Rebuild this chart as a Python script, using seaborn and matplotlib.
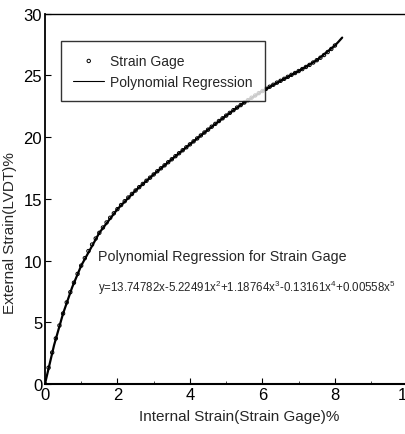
import numpy as np
import pandas as pd
import matplotlib
matplotlib.use("Agg")
import matplotlib.pyplot as plt
import seaborn as sns

# strain gage readings
gage_x = [0.0, 0.1, 0.2, 0.3, 0.4, 0.5, 0.6, 0.7, 0.8, 0.9,
          1.0, 1.1, 1.2, 1.3, 1.4, 1.5, 1.6, 1.7, 1.8, 1.9,
          2.0, 2.1, 2.2, 2.3, 2.4, 2.5, 2.6, 2.7, 2.8, 2.9,
          3.0, 3.1, 3.2, 3.3, 3.4, 3.5, 3.6, 3.7, 3.8, 3.9,
          4.0, 4.1, 4.2, 4.3, 4.4, 4.5, 4.6, 4.7, 4.8, 4.9,
          5.0, 5.1, 5.2, 5.3, 5.4, 5.5, 5.6, 5.7, 5.8, 5.9,
          6.0, 6.1, 6.2, 6.3, 6.4, 6.5, 6.6, 6.7, 6.8, 6.9,
          7.0, 7.1, 7.2, 7.3, 7.4, 7.5, 7.6, 7.7, 7.8, 7.9, 8.0]
gage_y = [0.00, 1.32, 2.55, 3.69, 4.74, 5.71, 6.61, 7.44, 8.21, 8.92,
          9.59, 10.20, 10.77, 11.30, 11.79, 12.25, 12.68, 13.09, 13.47, 13.83,
          14.17, 14.50, 14.81, 15.11, 15.40, 15.68, 15.95, 16.21, 16.47, 16.72,
          16.98, 17.24, 17.48, 17.72, 17.97, 18.21, 18.46, 18.70, 18.94, 19.18,
          19.42, 19.66, 19.90, 20.14, 20.38, 20.61, 20.85, 21.08, 21.31, 21.53,
          21.75, 21.97, 22.19, 22.40, 22.60, 22.81, 23.00, 23.20, 23.38, 23.57,
          23.74, 23.92, 24.09, 24.25, 24.42, 24.57, 24.73, 24.89, 25.05, 25.20,
          25.36, 25.52, 25.69, 25.86, 26.05, 26.24, 26.44, 26.66, 26.90, 27.15, 27.43]

# regression curve
fit_x = [0.0, 0.25, 0.5, 0.75, 1.0, 1.5, 2.0, 2.5, 3.0, 3.5, 4.0, 4.5,
         5.0, 5.5, 6.0, 6.5, 7.0, 7.5, 8.0, 8.1, 8.2]
fit_y = [0.00, 3.13, 5.71, 7.83, 9.59, 12.25, 14.17, 15.68, 16.98, 18.21,
         19.42, 20.61, 21.75, 22.81, 23.74, 24.57, 25.36, 26.24, 27.43, 27.74, 28.07]

eq_title = "Polynomial Regression for Strain Gage"
eq_text = "y=13.74782x-5.22491x$^2$+1.18764x$^3$-0.13161x$^4$+0.00558x$^5$"

gage = pd.DataFrame({"x": gage_x, "y": gage_y})
fit = pd.DataFrame({"x": fit_x, "y": fit_y})

sns.set_style("ticks")
plt.rcParams['font.family'] = ['Liberation Sans', 'DejaVu Sans']
plt.rcParams['mathtext.fontset'] = 'custom'
plt.rcParams['mathtext.rm'] = 'Liberation Sans'

fig = plt.figure(figsize=(4.05, 4.35), dpi=100)
ax = fig.add_axes([0.111, 0.115, 0.895, 0.851])

sns.scatterplot(data=gage, x="x", y="y", ax=ax, marker="o", s=6,
                facecolors="none", edgecolor="black", linewidth=0.7,
                label="Strain Gage")
sns.lineplot(data=fit, x="x", y="y", ax=ax, color="black", linewidth=1.6,
             label="Polynomial Regression")

ax.set_xlim(0, 10)
ax.set_ylim(0, 30)
ax.set_xticks([0, 2, 4, 6, 8, 10])
ax.set_xticks([1, 3, 5, 7, 9], minor=True)
ax.set_yticks([0, 5, 10, 15, 20, 25, 30])
ax.tick_params(direction="in", labelsize=12, length=4, pad=2, colors="black")
ax.tick_params(which="minor", direction="in", length=2)
for s in ax.spines.values():
    s.set_color("black")
    s.set_linewidth(1.0)
ax.spines["bottom"].set_linewidth(1.5)
ax.spines["left"].set_linewidth(1.3)

ax.set_xlabel("Internal Strain(Strain Gage)%", fontsize=11)
ax.set_ylabel("External Strain(LVDT)%", fontsize=11)
ax.xaxis.set_label_coords(0.536, -0.068)
ax.yaxis.set_label_coords(-0.077, 0.41)

ax.text(1.45, 10.4, eq_title, fontsize=10.3, va="center", ha="left")
ax.text(1.45, 7.9, eq_text, fontsize=8.3, va="center", ha="left")

leg = ax.legend(loc="upper left", bbox_to_anchor=(0.025, 0.945), fontsize=10,
                frameon=True, fancybox=False, borderpad=0.9, handlelength=2.2,
                labelspacing=0.5, handletextpad=0.4)
leg.get_frame().set_edgecolor("black")
leg.get_frame().set_linewidth(1.0)
for ln in leg.get_lines():
    ln.set_linewidth(0.8)

fig.savefig("out.png", dpi=100)
